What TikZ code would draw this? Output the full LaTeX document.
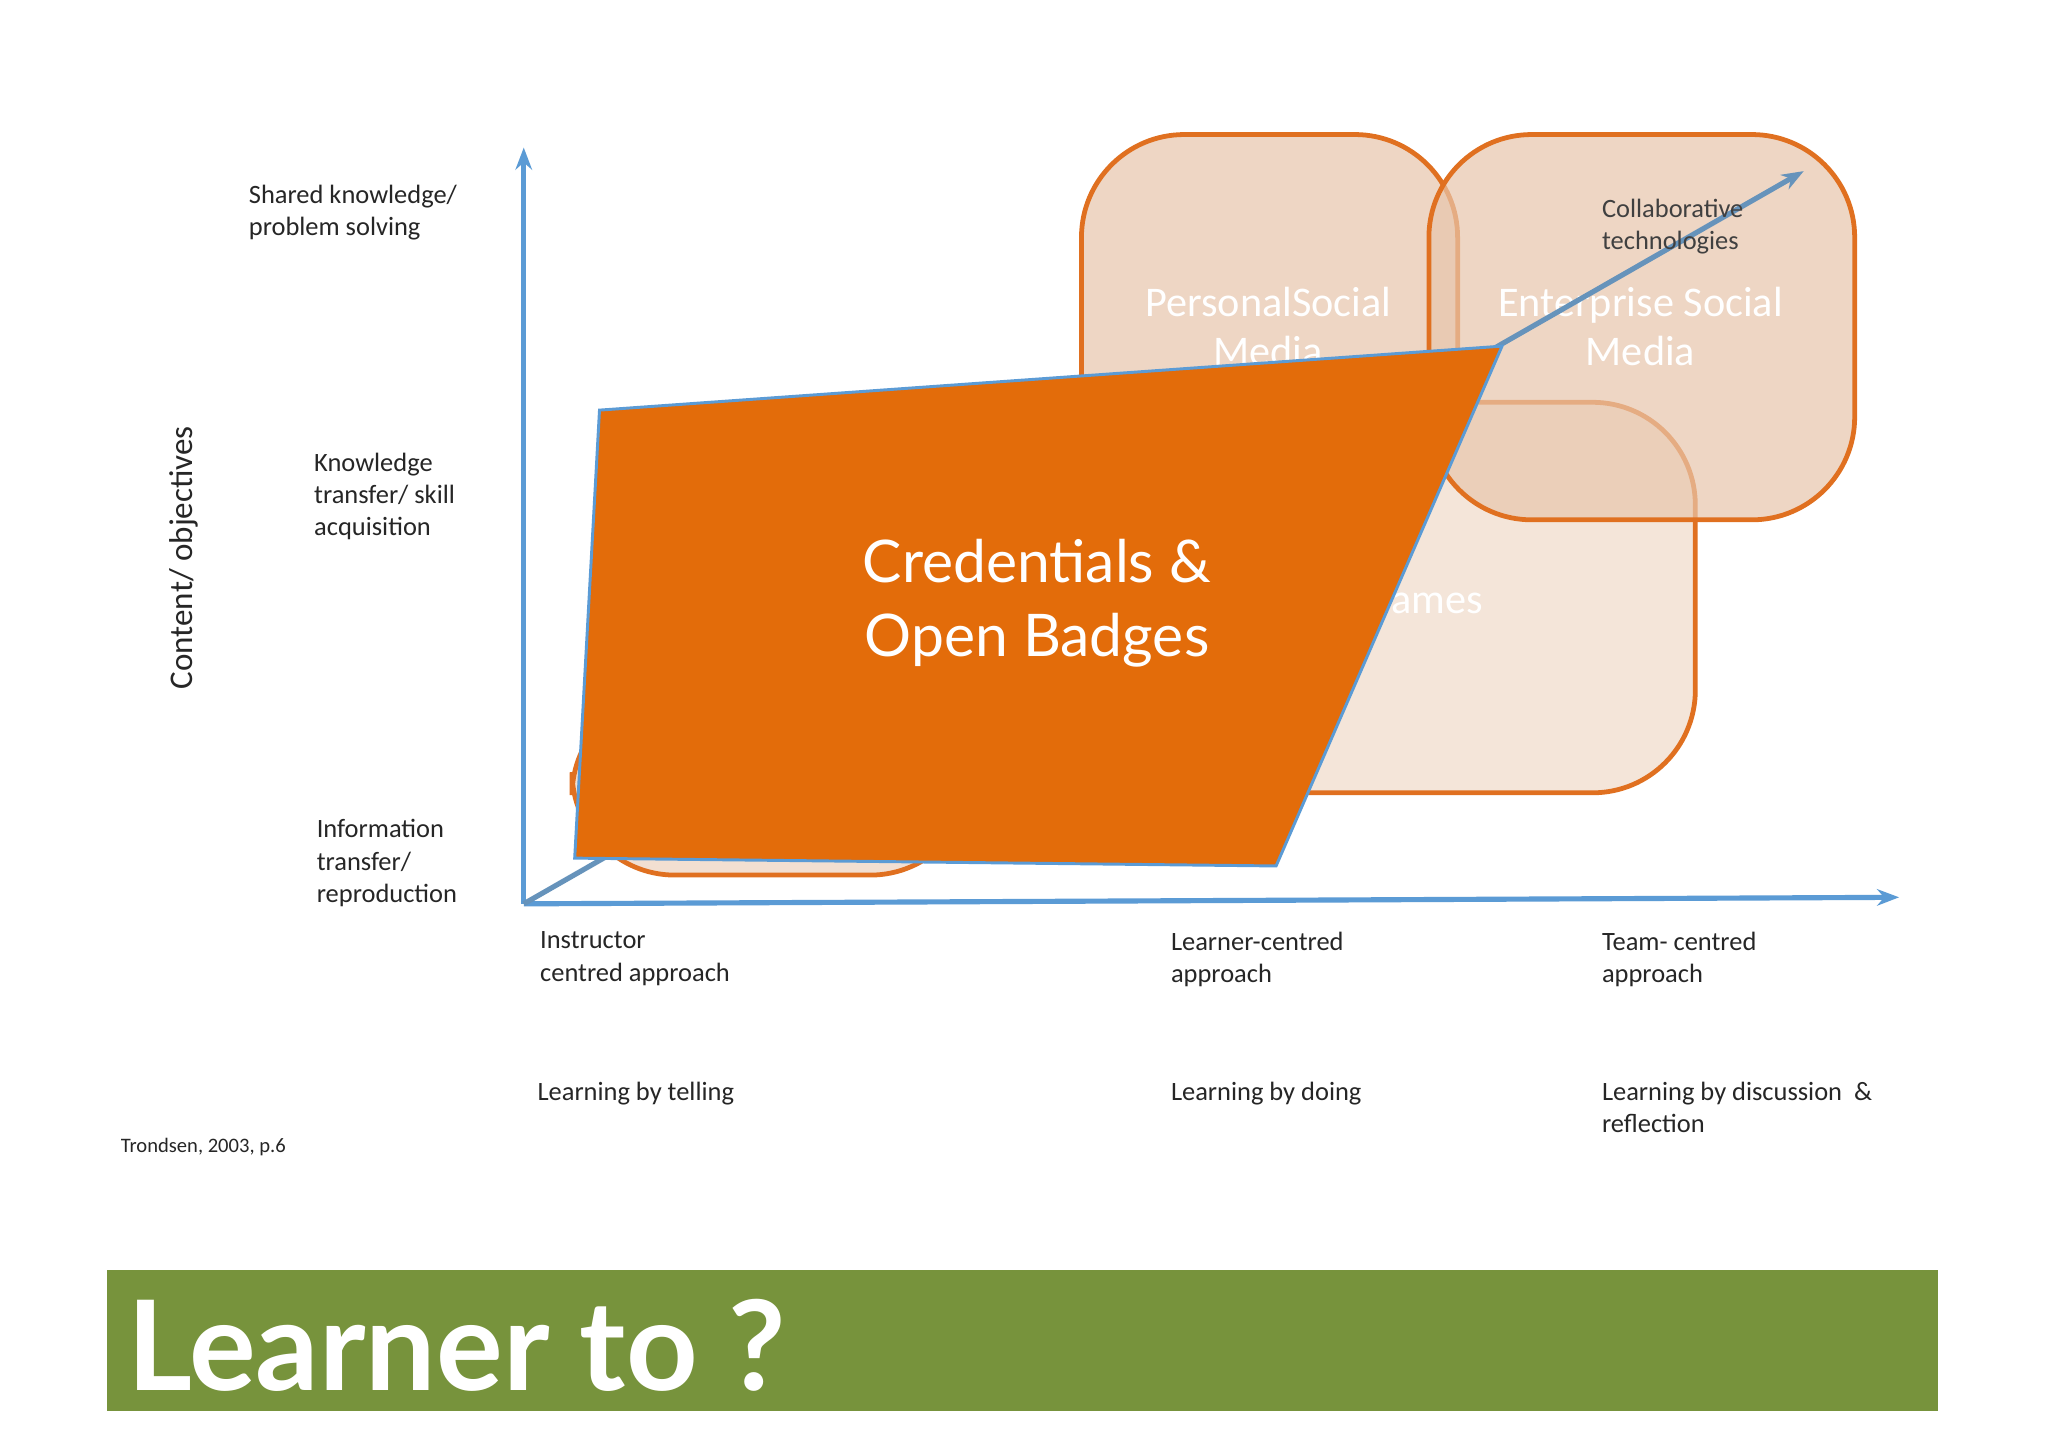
\documentclass[tikz,border=0pt]{standalone}
\usepackage{fontspec}
\setmainfont{Carlito}
\newfontfamily\lato{Lato}
\usetikzlibrary{arrows.meta}
\definecolor{ax}{HTML}{5B9BD5}
\definecolor{orb}{HTML}{E07020}
\definecolor{boxf}{HTML}{E8C6AC}
\definecolor{trap}{HTML}{E36C0A}
\definecolor{grn}{HTML}{77933C}
\tikzset{
 box/.style={draw=orb, line width=1.3pt, fill=boxf, fill opacity=0.7, rounded corners=28pt},
 lab/.style={font=\fontsize{7.2}{8.8}\selectfont, text=black!85, align=left, anchor=north west, inner sep=0},
 big/.style={font=\fontsize{11.5}{13.5}\selectfont, text=white, align=center},
 axis/.style={draw=ax, line width=1.4pt, -{Stealth[length=6pt]}}
}
\begin{document}
\begin{tikzpicture}[x=0.0125cm,y=-0.0125cm]
\useasboundingbox (0,0) rectangle (1568,1108);
\fill[white] (0,0) rectangle (1568,1108);
% boxes
\draw[box, fill opacity=0.55] (438,530) rectangle (745,670);
\draw[box, fill opacity=0.45] (800,308) rectangle (1298,607);
\draw[box] (828,103) rectangle (1116,395);
\draw[box] (1094,103) rectangle (1420,398);
\node[big] (psm) at (971,250) {PersonalSocial\\Media};
\node[big] (esm) at (1256,250) {Enterprise Social\\Media};
\node[big] (gm) at (1090,459) {Games};
% axes
\coordinate (o) at (401,692);
\coordinate (ytop) at (401,113);
\coordinate (xend) at (1454,687);
\coordinate (dend) at (1381,131);
\draw[axis] (o) -- (ytop);
\draw[axis] (o) -- (xend);
\draw[draw=ax!70!gray, line width=1.4pt, -{Stealth[length=6pt]}] (o) -- (dend);
\node[lab, text=black!75] (ct) at (1226,152) {Collaborative\\technologies};
% trapezoid
\draw[fill=trap, draw=ax, line width=0.8pt] (459,314) -- (1150,265) -- (977,663) -- (440,657) -- cycle;
\node[font=\lato\fontsize{16}{20}\selectfont, text=white, align=center] (cred) at (794,462) {Credentials \&\\Open Badges};
% labels
\node[lab] (l1) at (190,141) {Shared knowledge/\\problem solving};
\node[lab] (l2) at (240,346) {Knowledge\\transfer/ skill\\acquisition};
\node[lab] (l3) at (242,627) {Information\\transfer/\\reproduction};
\node[rotate=90, font=\fontsize{9}{11}\selectfont, text=black!85] (ya) at (141,427) {Content/ objectives};
\node[lab] (a1) at (413,713) {Instructor\\centred approach};
\node[lab] (a2) at (896,713) {Learner-centred\\approach};
\node[lab] (a3) at (1226,713) {Team- centred\\approach};
\node[lab] (b1) at (411,828) {Learning by telling};
\node[lab] (b2) at (896,828) {Learning by doing};
\node[lab] (b3) at (1226,828) {Learning by discussion~ \&\\reflection};
\node[lab, font=\fontsize{5.6}{7}\selectfont] (src) at (92,871) {Trondsen, 2003, p.6};
% title bar
\fill[grn] (82,972) rectangle (1484,1080);
\node[anchor=west, font=\lato\bfseries\fontsize{34}{40}\selectfont, text=white, inner sep=0] (title) at (97,1030) {Learner to ?};
\end{tikzpicture}
\end{document}
